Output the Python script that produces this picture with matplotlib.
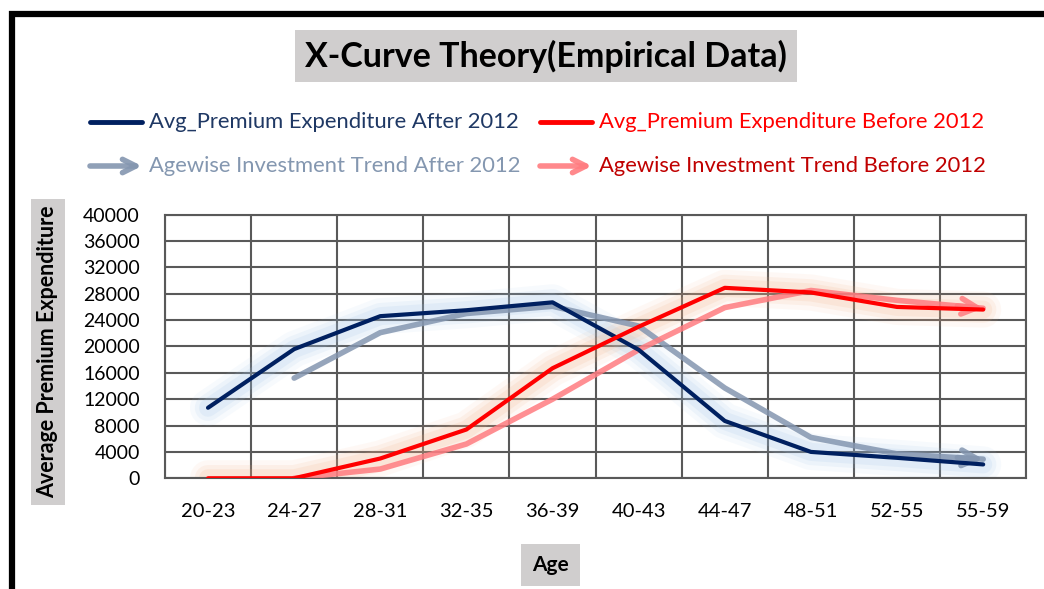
import numpy as np
import matplotlib
matplotlib.use("Agg")
import matplotlib.pyplot as plt
from matplotlib.lines import Line2D
from matplotlib.patches import FancyArrowPatch, Rectangle

plt.rcParams['font.family'] = ['Lato', 'DejaVu Sans']

# data
ages = ["20-23", "24-27", "28-31", "32-35", "36-39", "40-43", "44-47", "48-51", "52-55", "55-59"]
avg_after = [10700, 19600, 24600, 25500, 26700, 19500, 8700, 4000, 3100, 2100]
avg_before = [0, 0, 3000, 7400, 16700, 23000, 28900, 28200, 26000, 25600]
# trend lines start at the second age group
trend_after = [np.nan, 15200, 22100, 25000, 26100, 23100, 13700, 6200, 3700, 2900]
trend_before = [np.nan, 0, 1400, 5200, 12000, 19500, 25900, 28500, 27000, 25800]

yticks = list(range(0, 40001, 4000))

c_navy = '#002060'
c_slate = '#8496b0'
c_red = '#ff0000'
c_pink = '#ff7c80'

fig = plt.figure(figsize=(10.44, 5.89), dpi=100)
ax = fig.add_axes([0.158, 0.188, 0.825, 0.4475])

x = np.arange(len(ages))

# glow under the two average lines
for w, a in [(26, 0.08), (19, 0.12), (13, 0.15)]:
    ax.plot(x, avg_after, color='#9dc3e6', lw=w, alpha=a, solid_capstyle='round', solid_joinstyle='round', zorder=2)
    ax.plot(x, avg_before, color='#f4b183', lw=w, alpha=a, solid_capstyle='round', solid_joinstyle='round', zorder=2)

def trend(vals, color):
    vals = np.array(vals, dtype=float)
    ax.plot(x, vals, color=color, lw=4, alpha=0.85, solid_capstyle='round', zorder=3)
    # open arrow head on the last segment
    x0 = x[-1] - 0.3
    y0 = vals[-2] + (vals[-1] - vals[-2]) * 0.7
    ax.annotate("", xy=(x[-1], vals[-1]), xytext=(x0, y0),
                arrowprops=dict(arrowstyle='->', color=color, lw=4, alpha=0.85,
                                mutation_scale=28, shrinkA=0, shrinkB=0), zorder=3)

trend(trend_after, c_slate)
trend(trend_before, c_pink)
ax.plot(x, avg_after, color=c_navy, lw=3, solid_capstyle='round', zorder=4)
ax.plot(x, avg_before, color=c_red, lw=3, solid_capstyle='round', zorder=4)

ax.set_xlim(-0.5, len(ages) - 0.5)
ax.set_ylim(0, 40000)
ax.set_yticks(yticks)
ax.set_xticks(x)
ax.set_xticklabels(ages)
ax.set_xticks(np.arange(-0.5, len(ages), 1), minor=True)
ax.grid(True, which='minor', axis='x', color='#595959', lw=1.5)
ax.grid(True, which='major', axis='y', color='#595959', lw=1.5)
ax.set_axisbelow(True)
ax.tick_params(which='both', length=0)
ax.tick_params(axis='x', pad=18, labelsize=14.5)
ax.tick_params(axis='y', pad=18, labelsize=14)
for s in ax.spines.values():
    s.set_color('#595959')
    s.set_linewidth(1.5)

fig.text(0.036, 0.402, "Average Premium Expenditure", rotation=90, ha='left', va='center',
         fontsize=15.5, fontweight='bold',
         bbox=dict(facecolor='#d0cece', edgecolor='none', pad=5))
fig.text(0.527, 0.04, "Age", ha='center', va='center', fontsize=15, fontweight='bold',
         bbox=dict(facecolor='#d0cece', edgecolor='none', pad=8))
fig.text(0.523, 0.905, "X-Curve Theory(Empirical Data)", ha='center', va='center',
         fontsize=24.5, fontweight='bold',
         bbox=dict(facecolor='#d0cece', edgecolor='none', pad=7))

# legend drawn by hand
entries = [
    ("Avg_Premium Expenditure After 2012", c_navy, '#1f3864', False, 90, 122),
    ("Avg_Premium Expenditure Before 2012", c_red, '#ff0000', False, 540, 122),
    ("Agewise Investment Trend After 2012", c_slate, '#8497b0', True, 90, 166),
    ("Agewise Investment Trend Before 2012", c_pink, '#c00000', True, 540, 166),
]
W, H = 1044.0, 589.0
for label, lc, tc, arrow, px, py in entries:
    fx0, fx1, fy = px / W, (px + 52) / W, 1 - py / H
    if arrow:
        fig.patches.append(FancyArrowPatch((fx0, fy), (fx1, fy), transform=fig.transFigure,
                                           arrowstyle='->', color=lc, lw=4, mutation_scale=24,
                                           shrinkA=0, shrinkB=0, alpha=0.9))
    else:
        fig.lines.append(Line2D([fx0, fx1], [fy, fy], transform=fig.transFigure,
                                color=lc, lw=3.5, solid_capstyle='round'))
    fig.text((px + 59) / W, fy, label, color=tc, fontsize=15.8, ha='left', va='center')

# thick black frame at top and left
fig.patches.append(Rectangle((12 / W, -0.1), 1.2, 1.1 - 14 / H, transform=fig.transFigure,
                             fill=False, edgecolor='black', lw=4.5))

fig.savefig("out.png", dpi=100)
